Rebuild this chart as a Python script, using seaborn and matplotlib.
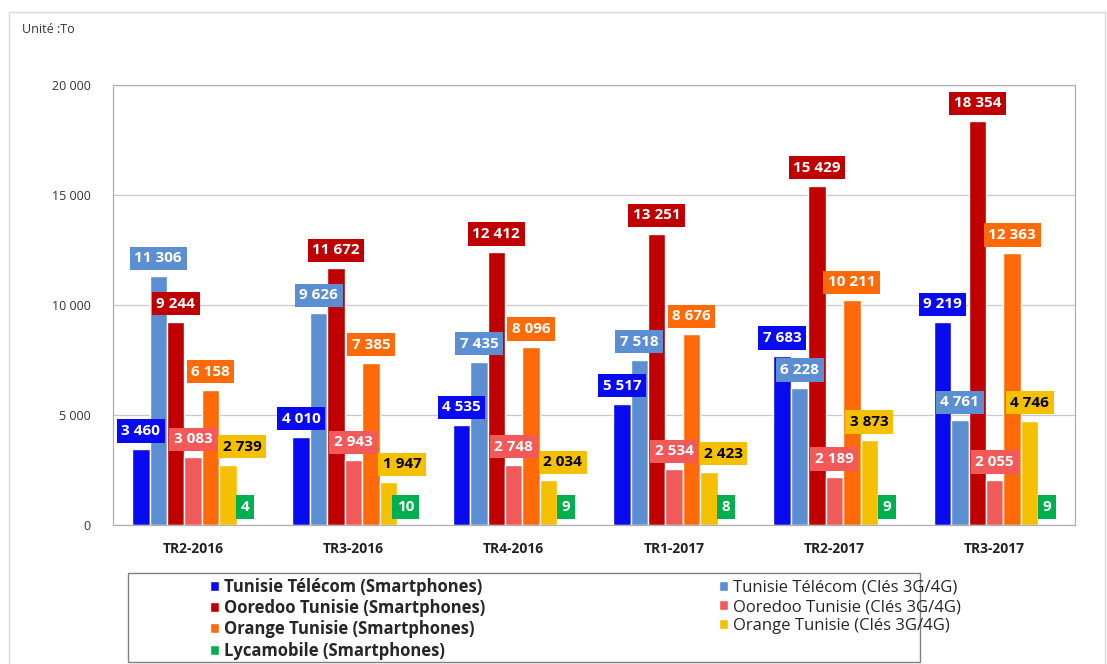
import matplotlib
matplotlib.use("Agg")
import matplotlib.pyplot as plt
import seaborn as sns
import pandas as pd
from matplotlib.patches import Rectangle

quarters = ["TR2-2016", "TR3-2016", "TR4-2016", "TR1-2017", "TR2-2017", "TR3-2017"]
series_names = [
    "Tunisie Télécom (Smartphones)",
    "Tunisie Télécom (Clés 3G/4G)",
    "Ooredoo Tunisie (Smartphones)",
    "Ooredoo Tunisie (Clés 3G/4G)",
    "Orange Tunisie (Smartphones)",
    "Orange Tunisie (Clés 3G/4G)",
    "Lycamobile (Smartphones)",
]
tt_smart = [3460, 4010, 4535, 5517, 7683, 9219]
tt_cles = [11306, 9626, 7435, 7518, 6228, 4761]
ooredoo_smart = [9244, 11672, 12412, 13251, 15429, 18354]
ooredoo_cles = [3083, 2943, 2748, 2534, 2189, 2055]
orange_smart = [6158, 7385, 8096, 8676, 10211, 12363]
orange_cles = [2739, 1947, 2034, 2423, 3873, 4746]
lyca_smart = [4, 10, 9, 8, 9, 9]

colors = ["#0A0AF0", "#5B8FD2", "#C00000", "#F25A5A", "#FF6A08", "#F5C000", "#00B050"]
text_colors = ["white", "white", "white", "white", "white", "black", "white"]

all_values = [tt_smart, tt_cles, ooredoo_smart, ooredoo_cles, orange_smart, orange_cles, lyca_smart]
rows = []
for name, vals in zip(series_names, all_values):
    for q, v in zip(quarters, vals):
        rows.append({"quarter": q, "series": name, "value": v})
df = pd.DataFrame(rows)


def fmt(v):
    return f"{v:,}".replace(",", " ")


sns.set_style("white")
plt.rcParams["font.family"] = ["Open Sans", "DejaVu Sans"]

fig = plt.figure(figsize=(11.07, 6.64), dpi=100)
ax = fig.add_axes([0.102, 0.209, 0.869, 0.663])

sns.barplot(data=df, x="quarter", y="value", hue="series", order=quarters,
            hue_order=series_names, palette=colors, width=0.76, saturation=1,
            ax=ax, legend=True)

# value labels in coloured boxes
anns = []
for i, container in enumerate(ax.containers):
    row = []
    for bar, v in zip(container, all_values[i]):
        x = bar.get_x() + bar.get_width() / 2
        a = ax.annotate(fmt(v), (x, bar.get_height()), xytext=(0, 13), textcoords="offset points",
                        ha="center", va="center", fontsize=11, fontweight="bold", color=text_colors[i],
                        bbox=dict(boxstyle="square,pad=0.3", facecolor=colors[i], edgecolor="none"),
                        zorder=5)
        row.append(a)
    anns.append(row)

ax.set_ylim(0, 20000)
ax.set_yticks([0, 5000, 10000, 15000, 20000])
ax.set_yticklabels([fmt(t) for t in [0, 5000, 10000, 15000, 20000]], fontsize=9, color="#333333")
ax.yaxis.grid(True, color="#c8c8c8", linewidth=0.9)
ax.set_axisbelow(True)
ax.set_xlabel("")
ax.set_ylabel("")
ax.tick_params(axis="x", labelsize=10, colors="#222222", length=0, pad=12)
ax.tick_params(axis="y", length=0, pad=16)
for lbl in ax.get_xticklabels():
    lbl.set_fontweight("bold")
for side in ["left", "right", "top", "bottom"]:
    ax.spines[side].set_visible(True)
    ax.spines[side].set_color("#b0b0b0")
    ax.spines[side].set_linewidth(0.9)

# push the Orange (Clés) label right when it collides with the Ooredoo (Clés) label
fig.canvas.draw()
renderer = fig.canvas.get_renderer()
for j in range(len(quarters)):
    left = anns[3][j].get_bbox_patch().get_window_extent(renderer)
    right = anns[5][j].get_bbox_patch().get_window_extent(renderer)
    if left.overlaps(right):
        shift_px = left.x1 - right.x0 + 1
        anns[5][j].xyann = (shift_px * 72 / fig.dpi, 13)

handles, labels = ax.get_legend_handles_labels()
order = [0, 2, 4, 6, 1, 3, 5]
ax.get_legend().remove()
leg = fig.legend([handles[k] for k in order], [labels[k] for k in order], ncol=2,
                 loc="upper left", bbox_to_anchor=(0.19, 0.13), bbox_transform=fig.transFigure,
                 fontsize=12, frameon=False,
                 handlelength=0.55, handleheight=0.55, handletextpad=0.3, labelspacing=0.2,
                 columnspacing=14.0, borderpad=0.0, borderaxespad=0.0)
for t in leg.get_texts()[:4]:
    t.set_fontweight("bold")
fig.patches.append(Rectangle((0.1156, 0.003), 0.7154, 0.134, transform=fig.transFigure,
                             fill=False, edgecolor="#7f7f7f", linewidth=1.0))

fig.text(0.02, 0.955, "Unité :To", fontsize=9, color="#333333", ha="left", va="center")
fig.patches.append(Rectangle((0.008, -0.01), 0.99, 0.992, transform=fig.transFigure,
                             fill=False, edgecolor="#d9d9d9", linewidth=1.0))

fig.savefig("out.png", dpi=100)
